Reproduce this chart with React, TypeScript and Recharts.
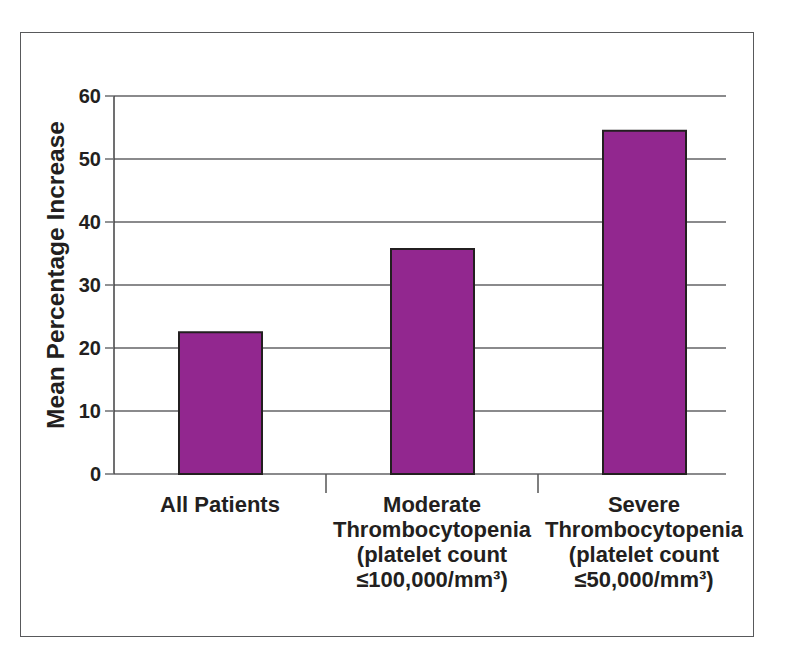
import React from "react";
import { BarChart, Bar, XAxis, YAxis, CartesianGrid, Label } from "recharts";

const categories = ["All Patients", "Moderate", "Severe"];
const categoryLines = [
  ["All Patients"],
  ["Moderate", "Thrombocytopenia", "(platelet count", "≤100,000/mm³)"],
  ["Severe", "Thrombocytopenia", "(platelet count", "≤50,000/mm³)"],
];
const meanIncrease = [22.5, 35.7, 54.5];
const yTicks = [0, 10, 20, 30, 40, 50, 60];

const data = categories.map((name, i) => ({ name, value: meanIncrease[i] }));

const PLOT_W = 636;
const textColor = "#231f20";
const font = "'Liberation Sans', Arial, sans-serif";

const CategoryTick = (props: any) => {
  const { x, y, index } = props;
  const band = PLOT_W / categories.length;
  const lines = categoryLines[index] || [];
  return (
    <g>
      {index > 0 && (
        <line x1={x - band / 2} y1={y} x2={x - band / 2} y2={y + 19} stroke="#555" strokeWidth={1.5} />
      )}
      <text
        x={x}
        y={y + 38}
        textAnchor="middle"
        fill={textColor}
        fontFamily={font}
        fontWeight={700}
        fontSize={22}
      >
        {lines.map((l: string, i: number) => (
          <tspan key={i} x={x} dy={i === 0 ? 0 : 25}>
            {l}
          </tspan>
        ))}
      </text>
    </g>
  );
};

const GridLine = (p: any) => (
  <line key={`h-${p.index}`} x1={p.x1} y1={p.y1} x2={p.x2 - 24} y2={p.y2} stroke="#8a8a8c" strokeWidth={2} />
);

export default function App() {
  return (
    <div style={{ position: "absolute", left: 0, top: 0, width: 792, height: 656, background: "#fff" }}>
      <div
        style={{
          position: "absolute",
          left: 20,
          top: 32,
          width: 734,
          height: 605,
          border: "1px solid #58595b",
          boxSizing: "border-box",
        }}
      />
      <BarChart
        width={792}
        height={656}
        data={data}
        margin={{ top: 96, right: 42, bottom: 42, left: 14 }}
        barSize={83}
        style={{ position: "absolute", left: 0, top: 0 }}
      >
        <CartesianGrid vertical={false} horizontal={GridLine} />
        <XAxis
          dataKey="name"
          axisLine={false}
          tickLine={false}
          tickSize={0}
          tickMargin={0}
          interval={0}
          height={140}
          tick={<CategoryTick />}
        />
        <YAxis
          width={100}
          domain={[0, 60]}
          ticks={yTicks}
          interval={0}
          axisLine={{ stroke: "#414042", strokeWidth: 1.5 }}
          tickLine={{ stroke: "#6d6e71", strokeWidth: 1.5 }}
          tickSize={9}
          tickMargin={4}
          tick={{ fill: textColor, fontFamily: font, fontWeight: 700, fontSize: 20 }}
        >
          <Label
            content={(p: any) => {
              const vb = p.viewBox;
              const cy = vb.y + vb.height / 2 - 10;
              return (
                <text
                  x={55}
                  y={cy}
                  transform={`rotate(-90, 55, ${cy})`}
                  textAnchor="middle"
                  dominantBaseline="central"
                  fill={textColor}
                  fontFamily={font}
                  fontWeight={700}
                  fontSize={24.5}
                >
                  Mean Percentage Increase
                </text>
              );
            }}
          />
        </YAxis>
        <Bar dataKey="value" fill="#92278f" stroke="#231f20" strokeWidth={2} isAnimationActive={false} />
      </BarChart>
    </div>
  );
}
